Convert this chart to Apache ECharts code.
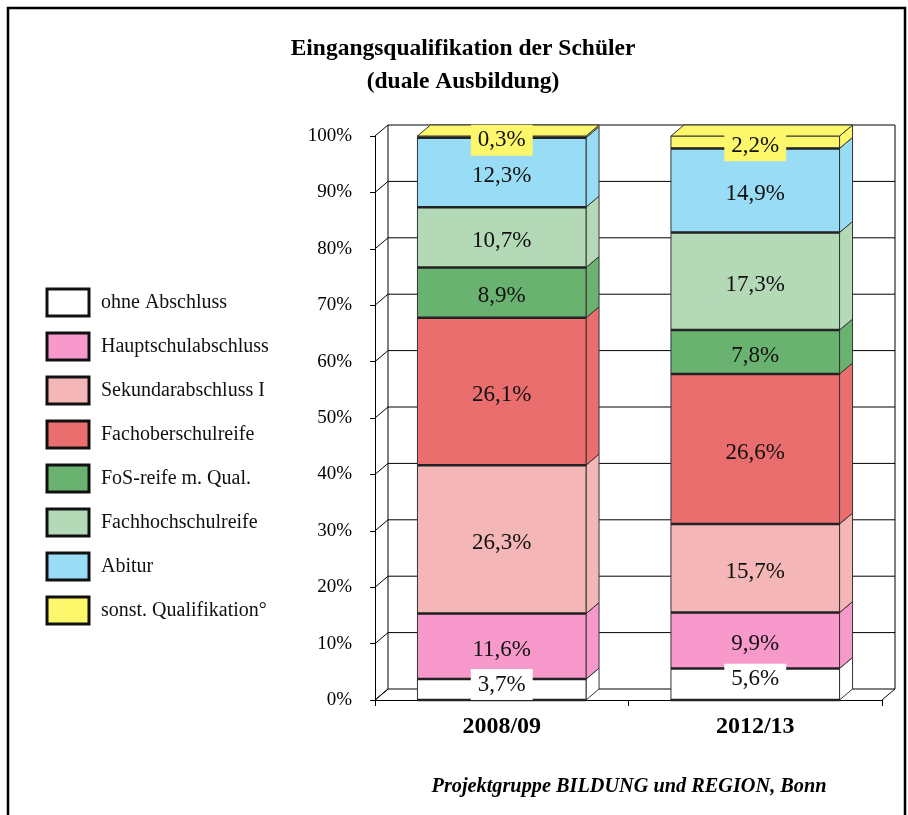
<!DOCTYPE html>
<html>
<head>
<meta charset="utf-8">
<title>Eingangsqualifikation der Schüler</title>
<script src="https://cdn.jsdelivr.net/npm/echarts@6/dist/echarts.min.js"></script>
<style>
  html, body { margin: 0; padding: 0; background: #fff; }
  #chart { width: 908px; height: 815px; }
</style>
</head>
<body>
<div id="chart"></div>
<script>
// Daten
var categories = ['2008/09', '2012/13'];
var seriesNames = ['ohne Abschluss', 'Hauptschulabschluss', 'Sekundarabschluss I', 'Fachoberschulreife',
  'FoS-reife m. Qual.', 'Fachhochschulreife', 'Abitur', 'sonst. Qualifikation°'];
var values2008 = [3.7, 11.6, 26.3, 26.1, 8.9, 10.7, 12.3, 0.3];
var values2012 = [5.6, 9.9, 15.7, 26.6, 7.8, 17.3, 14.9, 2.2];
var yTicks = [0, 10, 20, 30, 40, 50, 60, 70, 80, 90, 100];
var colors = ['#ffffff', '#f799cb', '#f4b6b6', '#eb6e6e', '#69b26f', '#b3d9b7', '#99dcf6', '#fdf76b'];

// 3D-Tiefe
var DX = 13, DY = -11;
var FONT = '"Liberation Serif", "Times New Roman", serif';

function fmt(v) {
  return String(v.toFixed(1)).replace('.', ',') + '%';
}

// gestapelte Werte, auf 100% normiert
var byCat = [values2008, values2012];
var stackData = seriesNames.map(function () { return []; });
byCat.forEach(function (vals, ci) {
  var total = vals.reduce(function (a, b) { return a + b; }, 0);
  var acc = 0;
  vals.forEach(function (v, k) {
    var start = acc;
    acc += v / total * 100;
    stackData[k].push([ci, start, acc, v]);
  });
});

function barRenderer(k) {
  return function (params, api) {
    var cat = api.value(0);
    var pB = api.coord([cat, api.value(1)]);
    var pT = api.coord([cat, api.value(2)]);
    var bw = api.size([1, 0])[0] * 0.665;
    var xL = pB[0] - bw / 2, xR = pB[0] + bw / 2;
    var yB = pB[1], yT = pT[1];
    var c = colors[k];
    var children = [
      {
        type: 'polygon',
        shape: { points: [[xR, yT], [xR + DX, yT + DY], [xR + DX, yB + DY], [xR, yB]] },
        style: { fill: c, stroke: '#333', lineWidth: 1 }
      },
      {
        type: 'rect',
        shape: { x: xL, y: yT, width: bw, height: yB - yT },
        style: { fill: c, stroke: '#333', lineWidth: 1 }
      },
      {
        type: 'line',
        shape: { x1: xL, y1: yB, x2: xR, y2: yB },
        style: { stroke: '#222', lineWidth: 2.5 }
      }
    ];
    if (k === seriesNames.length - 1) {
      children.push({
        type: 'polygon',
        shape: { points: [[xL, yT], [xL + DX, yT + DY], [xR + DX, yT + DY], [xR, yT]] },
        style: { fill: c, stroke: '#333', lineWidth: 1 }
      });
    }
    children.push({
      type: 'text',
      z2: 100,
      style: {
        text: fmt(api.value(3)),
        x: (xL + xR) / 2,
        y: (yB + yT) / 2 + (k === 0 ? -5 : 3.5),
        fill: '#111',
        font: '23px ' + FONT,
        align: 'center',
        verticalAlign: 'middle',
        backgroundColor: c,
        padding: [4, 7]
      }
    });
    return { type: 'group', children: children };
  };
}

// Rückwand, Boden und Seitenwand
function wallRenderer(params, api) {
  var cs = params.coordSys;
  var x0 = cs.x, x1 = cs.x + cs.width, xm = api.coord([0.5, 0])[0];
  var y = api.coord([0, api.value(0)])[1];
  var ls = { stroke: '#000', lineWidth: 1 };
  var children = [
    { type: 'line', shape: { x1: x0, y1: y, x2: x0 + DX, y2: y + DY }, style: ls },
    { type: 'line', shape: { x1: x0 + DX, y1: y + DY, x2: x1 + DX, y2: y + DY }, style: ls }
  ];
  if (params.dataIndex === 0) {
    var yTop = api.coord([0, 100])[1];
    [x0, xm, x1].forEach(function (xb) {
      children.push({ type: 'line', shape: { x1: xb, y1: y, x2: xb + DX, y2: y + DY }, style: ls });
      children.push({ type: 'line', shape: { x1: xb + DX, y1: yTop + DY, x2: xb + DX, y2: y + DY }, style: ls });
    });
  }
  return { type: 'group', children: children };
}

var chart = echarts.init(document.getElementById('chart'));

var series = [{
  type: 'custom',
  name: 'wall',
  z: 1,
  silent: true,
  renderItem: wallRenderer,
  data: yTicks.map(function (t) { return [t]; }),
  encode: { y: 0 }
}];
seriesNames.forEach(function (name, k) {
  series.push({
    type: 'custom',
    name: name,
    z: 2,
    itemStyle: { color: colors[k] },
    renderItem: barRenderer(k),
    data: stackData[k],
    encode: { x: 0, y: [1, 2] }
  });
});

var option = {
  animation: false,
  backgroundColor: '#fff',
  title: [
    {
      text: 'Eingangsqualifikation der Schüler\n(duale Ausbildung)',
      left: 458,
      top: 27,
      textAlign: 'center',
      textStyle: { fontFamily: FONT, fontWeight: 'bold', fontSize: 23.5, lineHeight: 33, color: '#000' }
    },
    {
      text: 'Projektgruppe BILDUNG und REGION, Bonn',
      left: 624,
      top: 772,
      textAlign: 'center',
      textStyle: { fontFamily: FONT, fontWeight: 'bold', fontStyle: 'italic', fontSize: 20.3, color: '#000' }
    }
  ],
  legend: {
    orient: 'vertical',
    left: 45.5,
    top: 287.5,
    padding: 0,
    icon: 'rect',
    itemWidth: 42,
    itemHeight: 27,
    itemGap: 14,
    data: seriesNames,
    selectedMode: false,
    itemStyle: { borderColor: '#111', borderWidth: 3 },
    textStyle: { fontFamily: FONT, fontSize: 20, color: '#111', padding: [0, 0, 0, 7] }
  },
  grid: { left: 375, right: 26, top: 136, bottom: 115 },
  xAxis: {
    type: 'category',
    data: categories,
    axisLine: { lineStyle: { color: '#000', width: 1 } },
    axisTick: { show: true, length: 6, lineStyle: { color: '#000' } },
    axisLabel: { fontFamily: FONT, fontWeight: 'bold', fontSize: 24, color: '#000', margin: 15 }
  },
  yAxis: {
    type: 'value',
    min: 0,
    max: 100,
    interval: 10,
    axisLine: { show: true, lineStyle: { color: '#000', width: 1 } },
    axisTick: { show: true, length: 5, lineStyle: { color: '#000' } },
    splitLine: { show: false },
    axisLabel: { formatter: '{value}%', fontFamily: FONT, fontSize: 19, color: '#000', margin: 23 }
  },
  graphic: [{
    type: 'rect',
    z: 100,
    silent: true,
    shape: { x: 8, y: 8, width: 897, height: 900 },
    style: { fill: 'none', stroke: '#000', lineWidth: 2.5 }
  }],
  series: series
};

chart.setOption(option);
</script>
</body>
</html>
